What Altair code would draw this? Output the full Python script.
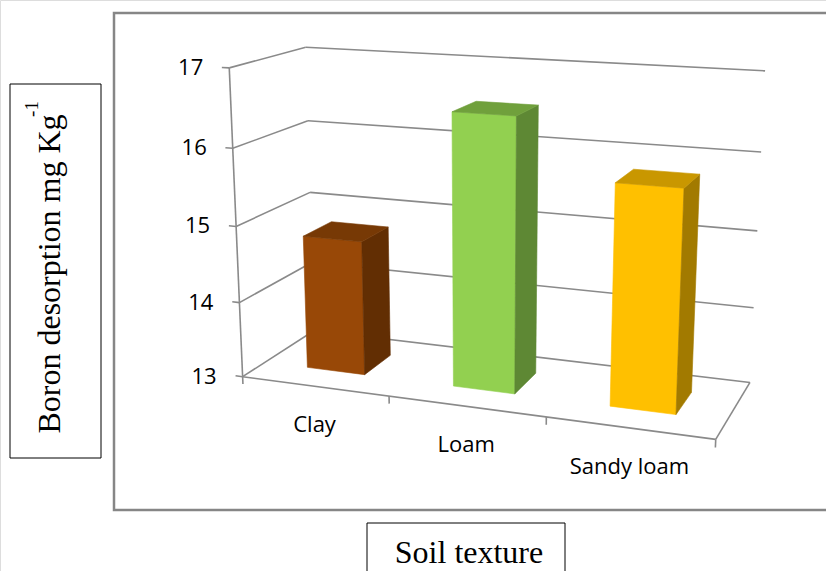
import altair as alt
import numpy as np
import pandas as pd

# ---- data -------------------------------------------------------------
categories = ["Clay", "Loam", "Sandy loam"]
boron = [14.78, 16.52, 15.8]
ticks = [13, 14, 15, 16, 17]

front_colors = ["#984807", "#92D050", "#FFC000"]
top_colors = ["#773905", "#70A03C", "#C99700"]
side_colors = ["#622E03", "#5E8834", "#A27A00"]

W, H = 826, 571
BASE = ticks[0]

# ---- 3-D view: camera fitted to the corners of the wall/floor box ------
# world = (category position, value, depth 0 front .. 1 back)
n = len(categories)
frame_world = [(0, 13, 0), (0, 17, 0), (0, 13, 1), (0, 17, 1),
               (n, 13, 1), (n, 17, 1), (n, 13, 0), (1, 13, 0), (2, 13, 0)]
frame_screen = [(243, 376), (229, 68), (314, 331), (306, 47),
                (750, 382), (765, 71), (716, 439), (389, 396), (546, 418)]


def fit_camera(world, image):
    Wp = np.asarray(world, float)
    Ip = np.asarray(image, float)

    def norm_mat(pts):
        c = pts.mean(0)
        s = np.sqrt(pts.shape[1]) / np.mean(np.linalg.norm(pts - c, axis=1))
        T = np.eye(pts.shape[1] + 1)
        T[:-1, :-1] *= s
        T[:-1, -1] = -s * c
        return T

    Tw, Ti = norm_mat(Wp), norm_mat(Ip)
    Wh = (Tw @ np.c_[Wp, np.ones(len(Wp))].T).T
    Ih = (Ti @ np.c_[Ip, np.ones(len(Ip))].T).T
    rows = []
    for X, (x, y, _) in zip(Wh, Ih):
        rows.append(np.r_[X, np.zeros(4), -x * X])
        rows.append(np.r_[np.zeros(4), X, -y * X])
    _, _, Vt = np.linalg.svd(np.array(rows))
    return np.linalg.inv(Ti) @ Vt[-1].reshape(3, 4) @ Tw


P = fit_camera(frame_world, frame_screen)


def proj(u, v, d):
    h = P @ np.array([u, v, d, 1.0])
    return float(h[0] / h[2]), float(h[1] / h[2])


# ---- bars as boxes (front, side, top faces) ---------------------------
HALF, D0, D1 = 0.2, 0.3, 0.7
faces = []
for i, (cat, val) in enumerate(zip(categories, boron)):
    uL, uR = i + 0.5 - HALF, i + 0.5 + HALF
    polys = [
        ("front", front_colors[i], [(uL, BASE, D0), (uR, BASE, D0), (uR, val, D0), (uL, val, D0)]),
        ("side", side_colors[i], [(uR, BASE, D0), (uR, BASE, D1), (uR, val, D1), (uR, val, D0)]),
        ("top", top_colors[i], [(uL, val, D0), (uR, val, D0), (uR, val, D1), (uL, val, D1)]),
    ]
    for j, (name, col, pts) in enumerate(polys):
        for k, p in enumerate(pts + [pts[0]]):
            x, y = proj(*p)
            faces.append(dict(face=f"{i}-{j}-{name}", k=k, x=x, y=y, col=col))
faces = pd.DataFrame(faces)

# ---- walls, floor, axis lines -----------------------------------------
segs = []


def seg(a, b):
    x1, y1 = proj(*a)
    x2, y2 = proj(*b)
    segs.append(dict(x=x1, y=y1, x2=x2, y2=y2))


for v in ticks:
    seg((0, v, 0), (0, v, 1))
    seg((0, v, 1), (n, v, 1))
    seg((0, v, 0), (-0.05, v, 0))
seg((0, BASE, 0), (n, BASE, 0))
seg((n, BASE, 0), (n, BASE, 1))
seg((0, BASE - 0.1, 0), (0, ticks[-1], 0))
for k in range(1, n + 1):
    seg((k, BASE, 0), (k, BASE - 0.1, 0))
segs = pd.DataFrame(segs)

tick_lab = pd.DataFrame([dict(x=proj(0, v, 0)[0], y=proj(0, v, 0)[1], t=str(v)) for v in ticks])
cat_lab = pd.DataFrame([dict(x=proj(i + 0.5, BASE, 0)[0], y=proj(i + 0.5, BASE, 0)[1], t=c)
                        for i, c in enumerate(categories)])

xs = alt.Scale(domain=[0, W], nice=False, zero=False)
ys = alt.Scale(domain=[0, H], nice=False, zero=False, reverse=True)


def X(f):
    return alt.X(f, type="quantitative", scale=xs, axis=None)


def Y(f):
    return alt.Y(f, type="quantitative", scale=ys, axis=None)


boxes = pd.DataFrame([
    dict(x=114, y=13, x2=832, y2=510, c="#868686", w=2.5),
    dict(x=10, y=84, x2=101, y2=458, c="#000000", w=1),
    dict(x=367, y=523, x2=565, y2=580, c="#000000", w=1),
])

frames = alt.Chart(boxes).mark_rect(fill=None, fillOpacity=0).encode(
    x=X("x"), y=Y("y"), x2="x2", y2="y2",
    stroke=alt.Stroke("c:N", scale=None),
    strokeWidth=alt.StrokeWidth("w:Q", scale=None),
)

grid = alt.Chart(segs).mark_rule(color="#8a8a8a", strokeWidth=1.6).encode(
    x=X("x"), y=Y("y"), x2="x2", y2="y2"
)

bars = alt.Chart(faces).mark_line(strokeWidth=0.6, strokeJoin="round").encode(
    x=X("x"), y=Y("y"),
    detail="face:N", order="k:Q",
    fill=alt.Fill("col:N", scale=None),
    stroke=alt.Stroke("col:N", scale=None),
)

tick_text = alt.Chart(tick_lab).mark_text(
    align="right", baseline="middle", dx=-26, font="Open Sans", fontSize=22, color="#000"
).encode(x=X("x"), y=Y("y"), text="t:N")

cat_text = alt.Chart(cat_lab).mark_text(
    align="center", baseline="middle", dy=39, font="Open Sans", fontSize=22, color="#000"
).encode(x=X("x"), y=Y("y"), text="t:N")

titles = pd.DataFrame([
    dict(x=50, y=274, t="Boron desorption mg Kg", a=270, s=32),
    dict(x=32, y=109, t="-1", a=270, s=19),
    dict(x=469, y=553, t="Soil texture", a=0, s=32),
])
title_text = alt.Chart(titles).mark_text(
    align="center", baseline="middle", font="Liberation Serif", color="#000"
).encode(
    x=X("x"), y=Y("y"), text="t:N",
    angle=alt.Angle("a:Q", scale=None),
    size=alt.Size("s:Q", scale=None),
)

chart = alt.layer(frames, grid, bars, tick_text, cat_text, title_text).properties(
    width=W, height=H, padding=0, autosize=alt.AutoSizeParams(type="none")
).configure_view(stroke=None).configure(background="white")

chart.save("out.html", embed_options={"renderer": "svg", "actions": False})
